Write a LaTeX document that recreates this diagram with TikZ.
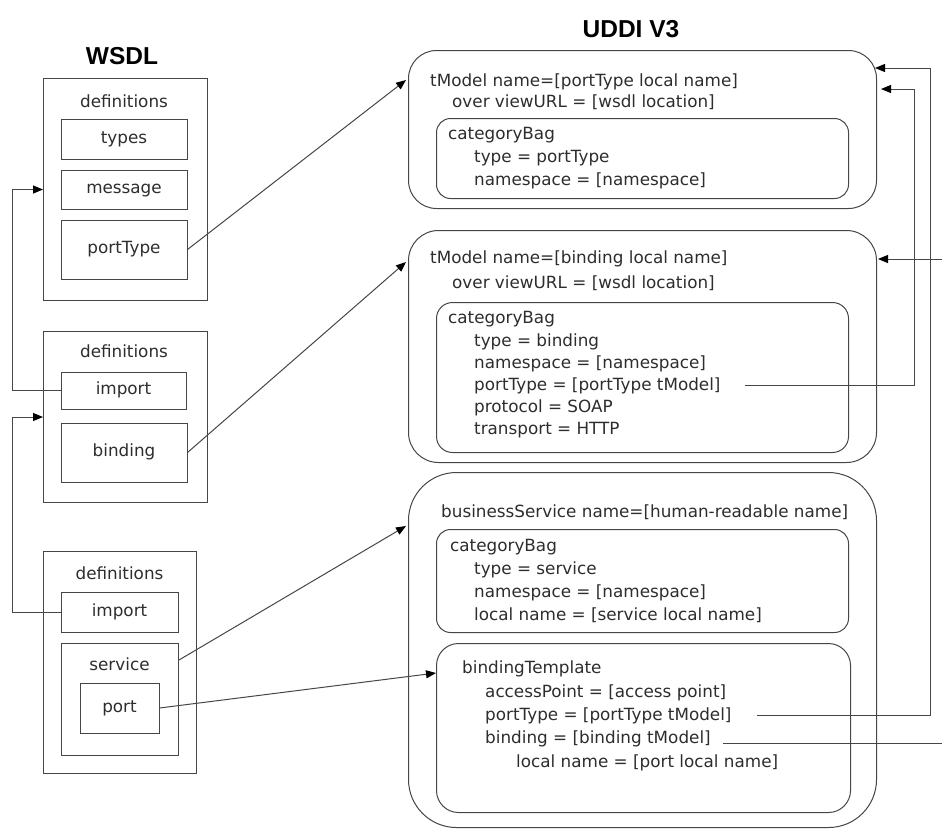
\documentclass[tikz,border=0pt]{standalone}
\usepackage{fontspec}
\setmainfont{DejaVu Sans}
\newfontfamily\headfont{Liberation Sans}
\usetikzlibrary{arrows.meta,positioning,calc}
\definecolor{ink}{RGB}{45,45,45}
\definecolor{edge}{RGB}{70,70,70}
\newcommand{\lbl}{\fontsize{16.8}{22}\selectfont}

\begin{document}
\begin{tikzpicture}[x=1pt, y=-1pt,
  wbox/.style={draw=edge, line width=1pt, inner sep=0pt, font=\lbl, text=ink, text height=12pt, text depth=4pt},
  ubox/.style={draw=edge, line width=1pt, inner sep=0pt, anchor=north west},
  ln/.style={anchor=base west, inner sep=0pt, font=\lbl, text=ink},
  title/.style={font=\headfont\bfseries\fontsize{24.5}{28}\selectfont},
  link/.style={draw=edge, line width=1pt, -{Triangle[length=10pt,width=8pt,color=black]}},
]
\useasboundingbox (0,0) rectangle (942,831);

% titles
\node[title] (wsdl) at (122,56) {WSDL};
\node[title] (uddi) at (631,29) {UDDI V3};

% WSDL side
\node[wbox, anchor=north west, minimum width=164, minimum height=222] (defs1) at (43,78) {};
\node[ln, anchor=base] (defs1lbl) at (124,107) {definitions};
\node[wbox, minimum width=126, minimum height=40] (types) at (124,139) {types};
\node[wbox, minimum width=126, minimum height=39] (msg) at (124,189.5) {message};
\node[wbox, minimum width=126, minimum height=59] (ptype) at (124,249.5) {portType};

\node[wbox, anchor=north west, minimum width=164, minimum height=171] (defs2) at (43,331) {};
\node[ln, anchor=base] (defs2lbl) at (124,357) {definitions};
\node[wbox, minimum width=125, minimum height=37] (imp2) at (123.5,390.5) {import};
\node[wbox, minimum width=126, minimum height=59] (bind) at (124,452.5) {binding};

\node[wbox, anchor=north west, minimum width=153, minimum height=222] (defs3) at (43,551) {};
\node[ln, anchor=base] (defs3lbl) at (119.5,579) {definitions};
\node[wbox, minimum width=117, minimum height=40] (imp3) at (119.5,612) {import};
\node[wbox, anchor=north west, minimum width=117, minimum height=112] (svc) at (61,643) {};
\node[ln, anchor=base] (svclbl) at (119.5,670) {service};
\node[wbox, minimum width=79, minimum height=50] (port) at (119.5,708) {port};

% UDDI side: portType tModel
\node[ubox, rounded corners=28, minimum width=468, minimum height=158] (tm1) at (408,50) {};
\node[ln] (tm1name) at (430,86) {tModel name=[portType local name]};
\node[ln] (tm1url) at (452,107) {over viewURL = [wsdl location]};
\node[ubox, rounded corners=14, minimum width=412, minimum height=80] (cb1) at (436,118) {};
\node[ln] (ca1) at (448,139) {categoryBag};
\node[ln] (ca1type) at (474,162) {type = portType};
\node[ln] (ca1ns) at (474,185) {namespace = [namespace]};

% binding tModel
\node[ubox, rounded corners=30, minimum width=468, minimum height=232] (tm2) at (408,230) {};
\node[ln] (tm2name) at (430,263) {tModel name=[binding local name]};
\node[ln] (tm2url) at (452,288) {over viewURL = [wsdl location]};
\node[ubox, rounded corners=16, minimum width=412, minimum height=150] (cb2) at (436,302) {};
\node[ln] (ca2) at (448,323) {categoryBag};
\node[ln] (ca2type) at (474,346) {type = binding};
\node[ln] (ca2ns) at (474,368) {namespace = [namespace]};
\node[ln] (ca2pt) at (474,390) {portType = [portType tModel]};
\node[ln] (ca2proto) at (474,412) {protocol = SOAP};
\node[ln] (ca2trans) at (474,434) {transport = HTTP};

% businessService
\node[ubox, rounded corners=48, minimum width=468, minimum height=355] (bs) at (408,472) {};
\node[ln] (bsname) at (441,517) {businessService name=[human-readable name]};
\node[ubox, rounded corners=14, minimum width=412, minimum height=103] (cb3) at (436,529) {};
\node[ln] (ca3) at (450,551) {categoryBag};
\node[ln] (ca3type) at (474,574) {type = service};
\node[ln] (ca3ns) at (474,597) {namespace = [namespace]};
\node[ln] (ca3loc) at (474,620) {local name = [service local name]};
\node[ubox, rounded corners=22, minimum width=414, minimum height=169] (bt) at (436,643) {};
\node[ln] (btname) at (462,673) {bindingTemplate};
\node[ln] (btap) at (485,697) {accessPoint = [access point]};
\node[ln] (btpt) at (485,720) {portType = [portType tModel]};
\node[ln] (btbind) at (485,743) {binding = [binding tModel]};
\node[ln] (btloc) at (516,767) {local name = [port local name]};

% rails and ends on the right
\coordinate (railA) at (914,0);
\coordinate (railB) at (930,0);
\coordinate (railC) at (948,0);
\coordinate (ca2ptout) at ([xshift=24pt]ca2pt.east);
\coordinate (btptout) at ([xshift=25pt]btpt.east);
\coordinate (btbindout) at ([shift={(12,5)}]btbind.east);
\coordinate (tm1inA) at ($(tm1.north east)+(-2,18)$);
\coordinate (tm1inB) at ($(tm1.north east)+(4,39)$);
\coordinate (tm2in) at ($(tm2.north east)+(1,29)$);

% connectors
\draw[link] (imp2.west) -- ++(-48,0) |- (defs1.west);
\draw[link] (imp3.west) -- ++(-48,0) |- (defs2.west);
\draw[link] (ptype.east) -- ($(tm1.north west)+(-2,30)$);
\draw[link] (bind.east) -- ($(tm2.north west)+(-2,32)$);
\draw[link] ($(svc.north east)+(0,17)$) -- ($(bs.north west)+(-2,54)$);
\draw[link] (port.east) -- ($(bt.north west)+(0,30)$);
\draw[link] (ca2ptout) -| (railA |- tm1inB) -- (tm1inB);
\draw[link] (btptout) -| (railB |- tm1inA) -- (tm1inA);
\draw[link] (btbindout) -| (railC |- tm2in) -- (tm2in);
\end{tikzpicture}
\end{document}
